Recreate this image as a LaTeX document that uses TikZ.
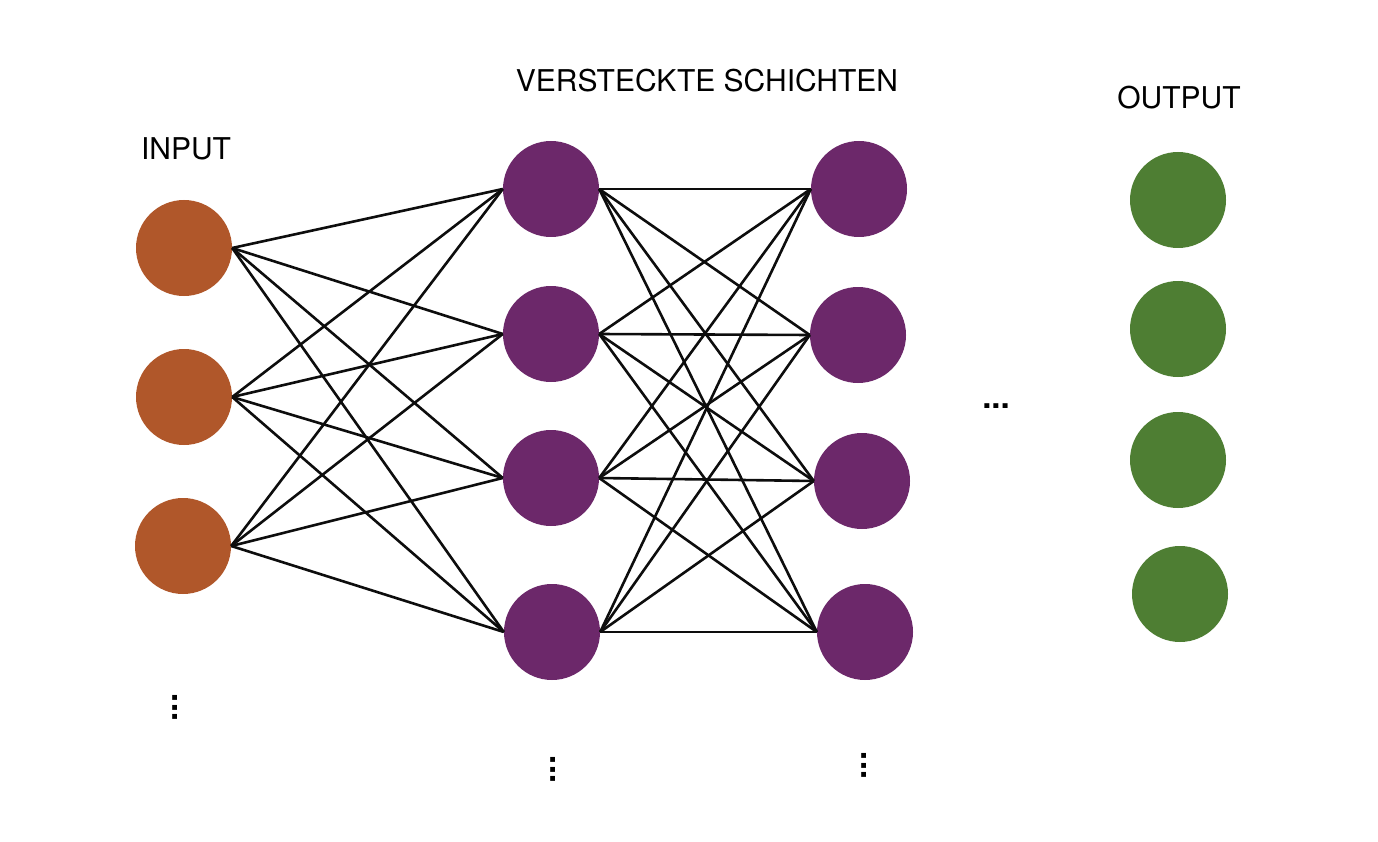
\documentclass[tikz,border=0pt]{standalone}
\usepackage{fontspec}
\setmainfont{TeX Gyre Heros}
\definecolor{inorange}{HTML}{B0572A}
\definecolor{hidpurple}{HTML}{6C286A}
\definecolor{outgreen}{HTML}{4E7E33}
\begin{document}
\begin{tikzpicture}[x=1pt,y=-1pt,
  neuron/.style={circle,inner sep=0pt,minimum size=96pt,draw=none},
  innode/.style={neuron,fill=inorange},
  hidnode/.style={neuron,fill=hidpurple},
  outnode/.style={neuron,fill=outgreen},
  label/.style={font=\fontsize{30}{36}\selectfont,inner sep=0pt},
  dotstext/.style={font=\fontsize{33}{36}\selectfont\bfseries,inner sep=0pt,anchor=base},
  conn/.style={draw=black!95,line width=2.6pt}]
\useasboundingbox (0,0) rectangle (1378,842);
% input layer
\node[innode] (i1) at (184,248) {};
\node[innode] (i2) at (184,397) {};
\node[innode] (i3) at (183,546) {};
% hidden layer 1
\node[hidnode] (a1) at (551,189) {};
\node[hidnode] (a2) at (551,334) {};
\node[hidnode] (a3) at (551,478) {};
\node[hidnode] (a4) at (552,632) {};
% hidden layer 2
\node[hidnode] (b1) at (859,189) {};
\node[hidnode] (b2) at (858,335) {};
\node[hidnode] (b3) at (862,481) {};
\node[hidnode] (b4) at (865,632) {};
% output layer
\node[outnode] (o1) at (1178,200) {};
\node[outnode] (o2) at (1178,329) {};
\node[outnode] (o3) at (1178,460) {};
\node[outnode] (o4) at (1180,594) {};
% labels
\node[label] (lin) at (186,149) {INPUT};
\node[label] (lhid) at (707,81) {VERSTECKTE SCHICHTEN};
\node[label] (lout) at (1179,98) {OUTPUT};
% connections
\foreach \s in {i1,i2,i3}{
  \foreach \t in {a1,a2,a3,a4}{
    \draw[conn] (\s.east) -- (\t.west);
  }
}
\foreach \s in {a1,a2,a3,a4}{
  \foreach \t in {b1,b2,b3,b4}{
    \draw[conn] (\s.east) -- (\t.west);
  }
}
% ellipses
\node[dotstext] (hd) at (996,408) {...};
\node[dotstext,rotate=90] (vd1) at (177,707.5) {...};
\node[dotstext,rotate=90] (vd2) at (555,769.5) {...};
\node[dotstext,rotate=90] (vd3) at (866,765.5) {...};
\end{tikzpicture}
\end{document}
